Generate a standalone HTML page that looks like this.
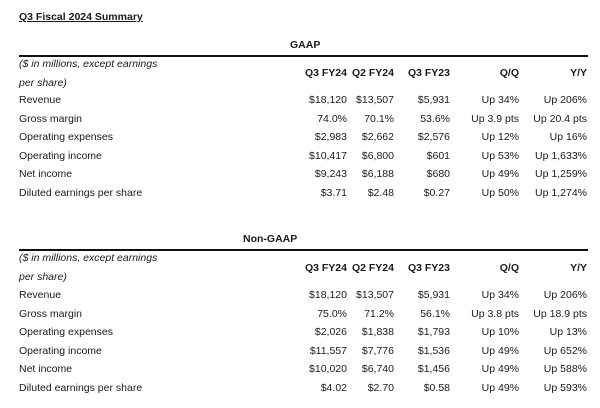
<!DOCTYPE html>
<html><head><meta charset="utf-8"><style>
body{margin:0;width:600px;height:408px;background:#fff;font-family:"Liberation Sans",sans-serif;color:#1a1a1a;font-size:10.5px;position:relative;overflow:hidden}
div{position:absolute;white-space:nowrap;line-height:12px}
.r{text-align:right}
.b{font-weight:bold}
.i{font-style:italic}
.hr{height:1.5px;background:#111;left:19px;width:569px}
</style></head><body>
<div class="b" style="left:19px;top:11px;text-decoration:underline;font-size:10.5px">Q3 Fiscal 2024 Summary</div>

<div class="b" style="left:290px;top:39px">GAAP</div>
<div class="hr" style="top:55px"></div>
<div class="i" style="left:19px;top:58px">($ in millions, except earnings</div>
<div class="i" style="left:19px;top:77px">per share)</div>
<div class="b r" style="right:253px;top:67px">Q3 FY24</div>
<div class="b r" style="right:206px;top:67px">Q2 FY24</div>
<div class="b r" style="right:150px;top:67px">Q3 FY23</div>
<div class="b r" style="right:81px;top:67px">Q/Q</div>
<div class="b r" style="right:13px;top:67px">Y/Y</div>

<div class="b" style="left:243px;top:233px">Non-GAAP</div>
<div class="hr" style="top:249px"></div>
<div class="i" style="left:19px;top:252px">($ in millions, except earnings</div>
<div class="i" style="left:19px;top:271px">per share)</div>
<div class="b r" style="right:253px;top:262px">Q3 FY24</div>
<div class="b r" style="right:206px;top:262px">Q2 FY24</div>
<div class="b r" style="right:150px;top:262px">Q3 FY23</div>
<div class="b r" style="right:81px;top:262px">Q/Q</div>
<div class="b r" style="right:13px;top:262px">Y/Y</div>

<div id="rows"></div>
<script>
const g=[["Revenue","$18,120","$13,507","$5,931","Up 34%","Up 206%"],
["Gross margin","74.0%","70.1%","53.6%","Up 3.9 pts","Up 20.4 pts"],
["Operating expenses","$2,983","$2,662","$2,576","Up 12%","Up 16%"],
["Operating income","$10,417","$6,800","$601","Up 53%","Up 1,633%"],
["Net income","$9,243","$6,188","$680","Up 49%","Up 1,259%"],
["Diluted earnings per share","$3.71","$2.48","$0.27","Up 50%","Up 1,274%"]];
const n=[["Revenue","$18,120","$13,507","$5,931","Up 34%","Up 206%"],
["Gross margin","75.0%","71.2%","56.1%","Up 3.8 pts","Up 18.9 pts"],
["Operating expenses","$2,026","$1,838","$1,793","Up 10%","Up 13%"],
["Operating income","$11,557","$7,776","$1,536","Up 49%","Up 652%"],
["Net income","$10,020","$6,740","$1,456","Up 49%","Up 588%"],
["Diluted earnings per share","$4.02","$2.70","$0.58","Up 49%","Up 593%"]];
const rights=[253,206,150,81,13];
let h="";
function put(d,top){d.forEach((r,i)=>{const t=top+i*18.6;
h+=`<div style="left:19px;top:${t}px">${r[0]}</div>`;
for(let k=1;k<6;k++)h+=`<div class="r" style="right:${rights[k-1]}px;top:${t}px">${r[k]}</div>`;});}
put(g,94);put(n,289);
document.body.insertAdjacentHTML("beforeend",h);
</script>
</body></html>
